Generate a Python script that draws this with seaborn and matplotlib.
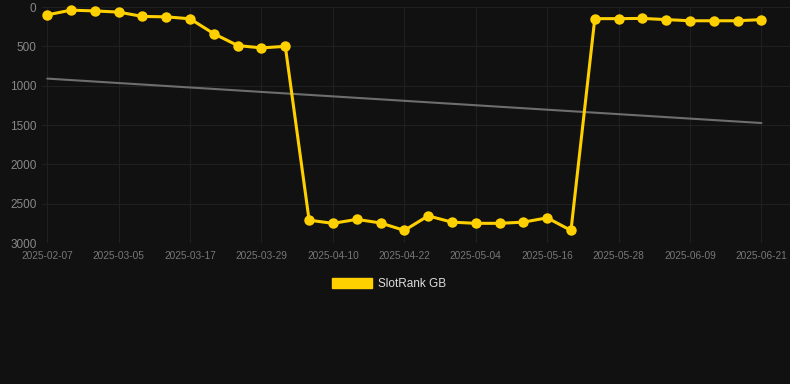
import numpy as np
import pandas as pd
import matplotlib
matplotlib.use('Agg')
import matplotlib.pyplot as plt
import seaborn as sns
from matplotlib.patches import Patch

# data
rank = [100, 40, 50, 65, 120, 125, 150, 340, 490, 520, 500,
        2710, 2750, 2700, 2745, 2840, 2655, 2735, 2750, 2750, 2735, 2680, 2840,
        148, 148, 145, 160, 175, 175, 175, 160]
tick_labels = ['2025-02-07', '2025-03-05', '2025-03-17', '2025-03-29', '2025-04-10',
               '2025-04-22', '2025-05-04', '2025-05-16', '2025-05-28', '2025-06-09',
               '2025-06-21']
trend_ends = [910, 1475]
series_name = 'SlotRank GB'

df = pd.DataFrame({'idx': np.arange(len(rank)), 'rank': rank})
trend_df = pd.DataFrame({'idx': [0, len(rank) - 1], 'rank': trend_ends})

sns.set_style('dark')
plt.rcParams['font.family'] = ['Liberation Sans', 'DejaVu Sans']

bg = '#111111'
yellow = '#FFD000'

fig = plt.figure(figsize=(7.9, 3.84), dpi=100, facecolor=bg)
ax = fig.add_axes([42 / 790, 1 - 243 / 384, 1 - 42 / 790, 236 / 384])
ax.set_facecolor(bg)

sns.lineplot(data=trend_df, x='idx', y='rank', ax=ax, color='#6e6e6e', linewidth=1.5)
sns.lineplot(data=df, x='idx', y='rank', ax=ax, color=yellow, linewidth=2.2,
             marker='o', markersize=7.5, markeredgewidth=0, markeredgecolor=yellow)
for ln in ax.lines:
    ln.set_clip_on(False)

ax.set_ylim(3000, 0)
ax.set_xlim(-0.22, 31.2)
ax.set_yticks([0, 500, 1000, 1500, 2000, 2500, 3000])
ax.set_xticks(np.arange(0, len(rank), 3))
ax.set_xticklabels(tick_labels)
ax.grid(True, color='#202020', linewidth=0.8)
ax.set_axisbelow(True)
for s in ax.spines.values():
    s.set_visible(False)
ax.tick_params(axis='y', colors='#888888', labelsize=8.5, length=0, pad=4)
ax.tick_params(axis='x', colors='#777777', labelsize=7.3, length=0, pad=6)
ax.set_xlabel('')
ax.set_ylabel('')

fig.legend(handles=[Patch(facecolor=yellow, edgecolor=yellow, label=series_name)],
           loc='center', bbox_to_anchor=(389 / 790, 1 - 284 / 384), frameon=False,
           handlelength=3.4, handleheight=1.0, handletextpad=0.5,
           labelcolor='#dddddd', fontsize=8.5)

fig.savefig('out.png', dpi=100, facecolor=bg)
